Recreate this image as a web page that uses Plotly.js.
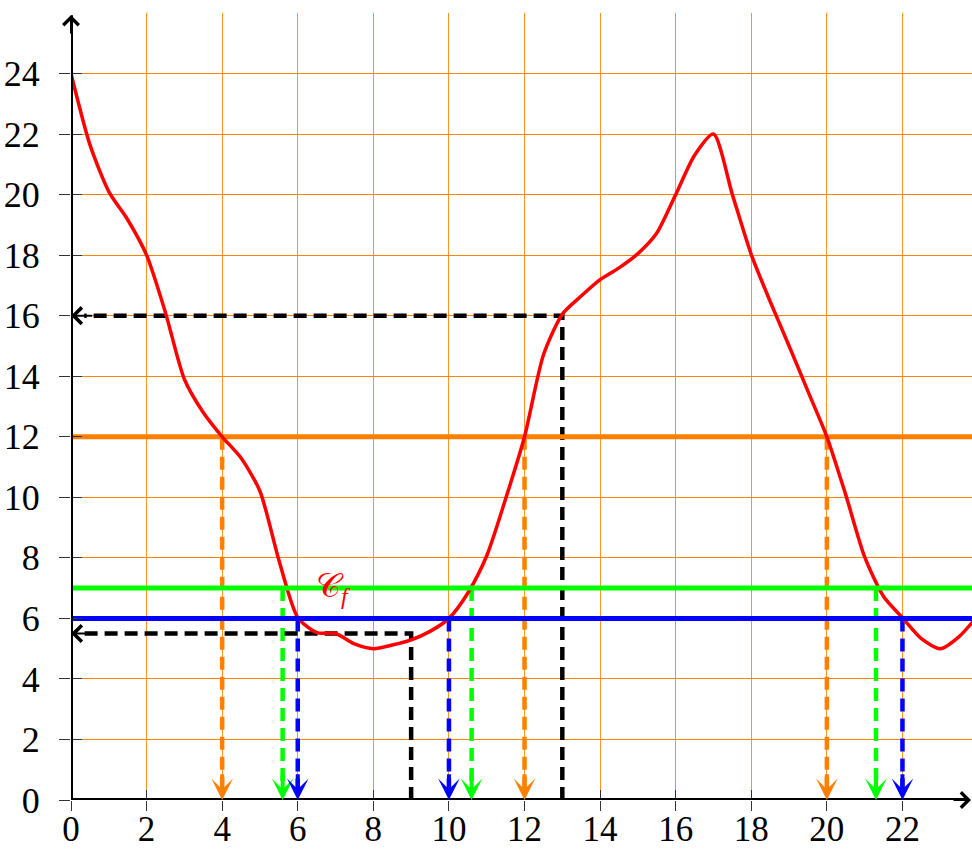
<!DOCTYPE html>
<html>
<head>
<meta charset="utf-8">
<script src="https://cdn.plot.ly/plotly-3.0.1.min.js"></script>
<style>html,body{margin:0;padding:0;background:#fff;}#chart{width:972px;height:850px;}</style>
</head>
<body>
<div id="chart"></div>
<script>
// ---- data ----
const curveX = [0, 0.5, 1, 1.5, 2, 2.5, 3, 3.5, 4, 4.5, 5, 5.5, 6, 6.5, 7, 7.5, 8, 8.5, 9, 9.5, 10, 10.5, 11, 11.5, 12, 12.5, 13, 13.5, 14, 14.5, 15, 15.5, 16, 16.5, 17, 17.5, 18, 18.5, 19, 19.5, 20, 20.5, 21, 21.5, 22, 22.5, 23, 23.5, 24];
const curveY = [24, 21.65, 20.1, 19.17, 18, 16.1, 13.9, 12.8, 12, 11.3, 10.2, 7.93, 6.03, 5.53, 5.5, 5.16, 5.0, 5.12, 5.29, 5.57, 6.0, 6.84, 8.07, 9.95, 12, 14.7, 16.05, 16.65, 17.19, 17.58, 18.05, 18.73, 20, 21.3, 22.0, 20.0, 18.02, 16.47, 15.0, 13.5, 12, 10.08, 8.03, 6.72, 6.02, 5.33, 5.0, 5.4, 6.1];

const levelOrange = 12;
const levelGreen = 7;
const levelBlue = 6;
const orangeX = [4, 12, 20];
const greenX = [5.6, 10.6, 21.3];
const blueX = [6, 10, 22];
const readX = [9, 13];
const readY = [5.5, 16];

const xTicks = [0, 2, 4, 6, 8, 10, 12, 14, 16, 18, 20, 22];
const yTicks = [0, 2, 4, 6, 8, 10, 12, 14, 16, 18, 20, 22, 24];
const curveLabel = '𝒞<sub><i>f</i></sub>';

// ---- styles ----
const X_MAX = 23.84, Y_MAX = 26;
const ORANGE = '#ff8000', GREEN = '#00ff00', BLUE = '#0000ff', RED = '#ff0000';
const DASH = '13px,7px';
const SERIF = '"Liberation Serif", "DejaVu Serif", serif';

function vertDashed(xs, level, color) {
  const x = [], y = [];
  xs.forEach(v => { x.push(v, v, null); y.push(level, 0.3, null); });
  return {x, y, mode: 'lines', line: {color, width: 4.5, dash: DASH}, hoverinfo: 'skip', showlegend: false};
}
function hLine(level, color) {
  return {x: [0, 24], y: [level, level], mode: 'lines', line: {color, width: 5}, hoverinfo: 'skip', showlegend: false};
}

const traces = [];
traces.push(vertDashed(orangeX, levelOrange, ORANGE));
traces.push(vertDashed(greenX, levelGreen, GREEN));
traces.push(vertDashed(blueX, levelBlue, BLUE));
(function(){
  const x = [], y = [];
  readX.forEach((v, i) => { x.push(v, v, 0.35, null); y.push(0, readY[i], readY[i], null); });
  traces.push({x, y, mode: 'lines', line: {color: '#000', width: 4.5, dash: DASH}, hoverinfo: 'skip', showlegend: false});
})();
traces.push(hLine(levelOrange, ORANGE));
traces.push({x: curveX, y: curveY, mode: 'lines', line: {color: RED, width: 3.5, shape: 'spline', smoothing: 0.7}, hoverinfo: 'skip', showlegend: false});
traces.push(hLine(levelGreen, GREEN));
traces.push(hLine(levelBlue, BLUE));
traces.push({x: [0], y: [0], mode: 'markers', marker: {opacity: 0}, xaxis: 'x2', yaxis: 'y2', hoverinfo: 'skip', showlegend: false});

const annotations = [];
function arrow(x, y, ax, ay, color, head, width, size) {
  annotations.push({x, y, ax, ay, xref: 'x', yref: 'y', axref: 'x', ayref: 'y', text: '', showarrow: true,
    arrowhead: head, arrowwidth: width, arrowsize: size, arrowcolor: color, standoff: 0, startstandoff: 0});
}
orangeX.forEach(v => arrow(v, 0, v, 0.9, ORANGE, 3, 4, 0.9));
greenX.forEach(v => arrow(v, 0, v, 0.9, GREEN, 3, 4, 0.9));
blueX.forEach(v => arrow(v, 0, v, 0.9, BLUE, 3, 4, 0.9));
readY.forEach(v => arrow(0, v, 0.6, v, '#000', 4, 2, 1.6));
annotations.push({x: 1.0, y: 0, xref: 'paper', yref: 'y', ax: -20, ay: 0, text: '', showarrow: true, arrowhead: 4, arrowwidth: 2, arrowsize: 1.5, arrowcolor: '#000', standoff: 0});
annotations.push({x: 0, y: 25.93, xref: 'x', yref: 'y', ax: 0, ay: 20, text: '', showarrow: true, arrowhead: 4, arrowwidth: 2, arrowsize: 1.5, arrowcolor: '#000', standoff: 0});
annotations.push({x: 6.95, y: 7.0, xref: 'x', yref: 'y', text: curveLabel, showarrow: false,
  font: {family: SERIF, size: 34, color: RED}});

const tickFont = {family: SERIF, size: 36, color: '#000'};
const xTickFont = {family: SERIF, size: 35, color: '#000'};
const GRID = 'rgba(255,128,0,0.85)';
const layout = {
  width: 972, height: 850,
  margin: {l: 71, r: 0, t: 13, b: 50, pad: 0},
  paper_bgcolor: '#fff', plot_bgcolor: '#fff',
  showlegend: false,
  font: {family: SERIF},
  xaxis: {range: [0, X_MAX], tickvals: xTicks, ticktext: xTicks.map(String), showgrid: true, gridcolor: GRID, gridwidth: 1,
    zeroline: false, showline: false, ticks: 'outside', ticklen: 10, tickwidth: 1, tickcolor: '#333', tickfont: xTickFont, ticklabelstandoff: -12},
  yaxis: {range: [0, Y_MAX], tickvals: yTicks, ticktext: yTicks.map(String), showgrid: true, gridcolor: GRID, gridwidth: 1,
    minor: {dtick: 2, tick0: 0, showgrid: true, gridcolor: GRID, gridwidth: 1, ticks: ''},
    zeroline: false, showline: false, ticks: 'outside', ticklen: 11, tickwidth: 1, tickcolor: '#333', tickfont: tickFont, ticklabelstandoff: 12},
  xaxis2: {overlaying: 'x', range: [0, X_MAX], tickvals: xTicks, showticklabels: false, showgrid: false, zeroline: false, ticks: 'inside', ticklen: 10, tickwidth: 1, tickcolor: '#333'},
  yaxis2: {overlaying: 'y', range: [0, Y_MAX], tickvals: yTicks, showticklabels: false, showgrid: false, zeroline: false, ticks: 'inside', ticklen: 11, tickwidth: 1, tickcolor: '#333'},
  shapes: [
    {type: 'line', xref: 'paper', yref: 'y', x0: 0, x1: 0.995, y0: 0, y1: 0, line: {color: '#000', width: 4}, layer: 'above'},
    {type: 'line', xref: 'x', yref: 'paper', x0: 0, x1: 0, y0: 0, y1: 0.997, line: {color: '#000', width: 4}, layer: 'above'}
  ],
  annotations
};
Plotly.newPlot('chart', traces, layout, {staticPlot: true, displayModeBar: false});
</script>
</body>
</html>
